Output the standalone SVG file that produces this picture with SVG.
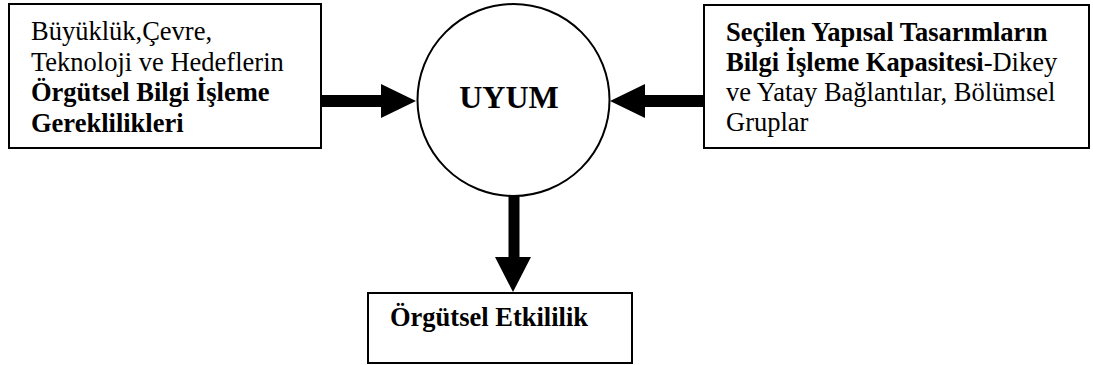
<svg xmlns="http://www.w3.org/2000/svg" width="1093" height="365" viewBox="0 0 1093 365">
  <style>
    .box { fill: #fff; stroke: #000; stroke-width: 2; }
    .t { font-family: "Liberation Serif", "Times New Roman", serif; font-size: 26.5px; fill: #000; }
    .b { font-weight: bold; }
    .arrow { fill: #000; stroke: none; }
  </style>
  <rect width="1093" height="365" fill="#fff"/>

  <g id="connectors">
    <!-- left box to circle -->
    <path class="arrow" d="M321 95 H381 V84 L416 101 L381 118 V107 H321 Z"/>
    <!-- right box to circle -->
    <path class="arrow" d="M704 95 H645 V84 L610 101 L645 118 V107 H704 Z"/>
    <!-- circle down to result -->
    <path class="arrow" d="M508.5 195 H519.5 V257 H531 L513 292 L495 257 H508.5 Z"/>
  </g>

  <g id="node-requirements">
    <rect class="box" x="9" y="4" width="312" height="144"/>
    <text class="t" x="31" y="40">Büyüklük,Çevre,</text>
    <text class="t" x="31" y="71">Teknoloji ve Hedeflerin</text>
    <text class="t b" x="31" y="101">Örgütsel Bilgi İşleme</text>
    <text class="t b" x="31" y="132">Gereklilikleri</text>
  </g>

  <g id="node-capacity">
    <rect class="box" x="704" y="5" width="385" height="143"/>
    <text class="t b" x="726" y="41">Seçilen Yapısal Tasarımların</text>
    <text class="t" x="726" y="71"><tspan class="b">Bilgi İşleme Kapasitesi</tspan>-Dikey</text>
    <text class="t" x="726" y="101">ve Yatay Bağlantılar, Bölümsel</text>
    <text class="t" x="726" y="131">Gruplar</text>
  </g>

  <g id="node-uyum">
    <circle cx="513.5" cy="100" r="96" fill="#fff" stroke="#000" stroke-width="2"/>
    <text class="t b" x="509" y="108" text-anchor="middle" style="font-size:32px">UYUM</text>
  </g>

  <g id="node-effectiveness">
    <rect class="box" x="368" y="293" width="264" height="70"/>
    <text class="t b" x="390" y="326">Örgütsel Etkililik</text>
  </g>
</svg>
